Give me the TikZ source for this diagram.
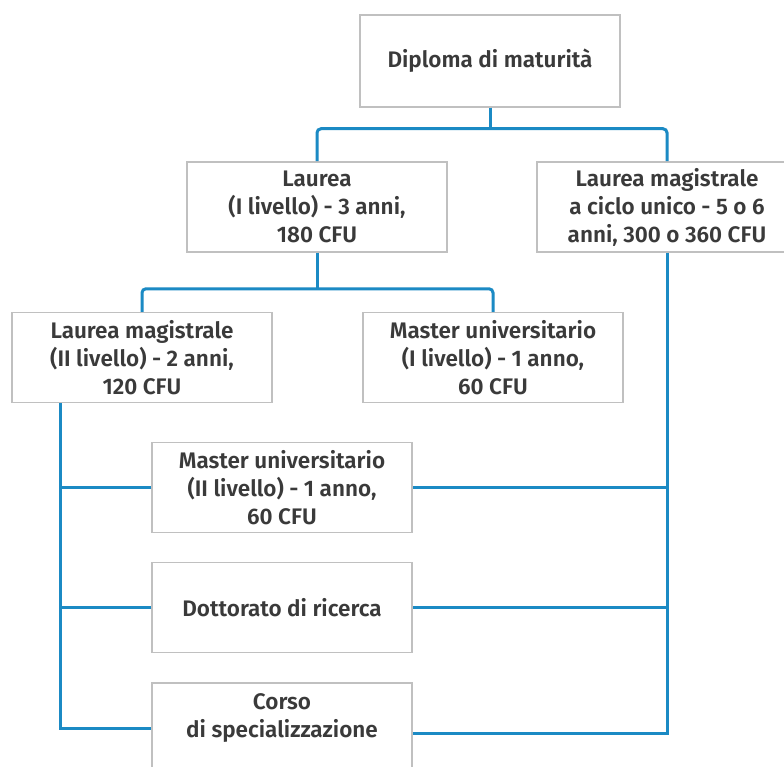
\documentclass[tikz,border=0pt]{standalone}
\usepackage{fontspec}
\setmainfont{Fira Sans}[BoldFont={Fira Sans SemiBold}]
\definecolor{linkblue}{RGB}{27,138,196}
\definecolor{boxgray}{RGB}{192,192,192}
\definecolor{txtgray}{RGB}{58,58,58}
\tikzset{
  box/.style={draw=boxgray, line width=1.5pt, fill=white, minimum width=260pt,
    minimum height=90pt, inner sep=0pt, align=center, text=txtgray,
    font=\bfseries\fontsize{22.5}{28}\selectfont},
  conn/.style={draw=linkblue, line width=3pt},
}
\begin{document}
\begin{tikzpicture}[x=1pt,y=-1pt]
\useasboundingbox (0,0) rectangle (784,767);
\clip (0,0) rectangle (784,767);
\fill[white] (0,0) rectangle (784,767);

\node[box, minimum height=92pt] (dip) at (490,61) {Diploma di maturità};
\node[box] (lau) at (317,207) {Laurea\\(I livello) - 3 anni,\\180 CFU};
\node[box] (lmcu) at (667,207) {Laurea magistrale\\a ciclo unico - 5 o 6\\anni, 300 o 360 CFU};
\node[box] (lm2) at (142,357.5) {Laurea magistrale\\(II livello) - 2 anni,\\120 CFU};
\node[box] (m1) at (493,357.5) {Master universitario\\(I livello) - 1 anno,\\60 CFU};
\node[box] (m2) at (282,487.5) {Master universitario\\(II livello) - 1 anno,\\60 CFU};
\node[box] (dott) at (282,607.5) {Dottorato di ricerca};
\node[box] (corso) at (282,728) {Corso\\di specializzazione\\[-12pt]\strut};

\coordinate (j1) at ([yshift=-21pt]dip.south);
\coordinate (j2) at ([yshift=-36pt]lau.south);
\coordinate (lb) at ([xshift=-82pt]lm2.south);
\coordinate (ce) at ([yshift=-5pt]corso.east);

\draw[conn] (dip.south) -- (j1);
\draw[conn, rounded corners=4pt] (lau.north) |- (j1) -| (lmcu.north);
\draw[conn] (lau.south) -- (j2);
\draw[conn, rounded corners=4pt] (lm2.north) |- (j2) -| (m1.north);

\draw[conn] (lb) |- (corso.west);
\draw[conn] (m2.west) -- (m2.west -| lb);
\draw[conn] (dott.west) -- (dott.west -| lb);

\draw[conn] (lmcu.south) |- (ce);
\draw[conn] (m2.east) -- (m2.east -| lmcu.south);
\draw[conn] (dott.east) -- (dott.east -| lmcu.south);
\end{tikzpicture}
\end{document}
